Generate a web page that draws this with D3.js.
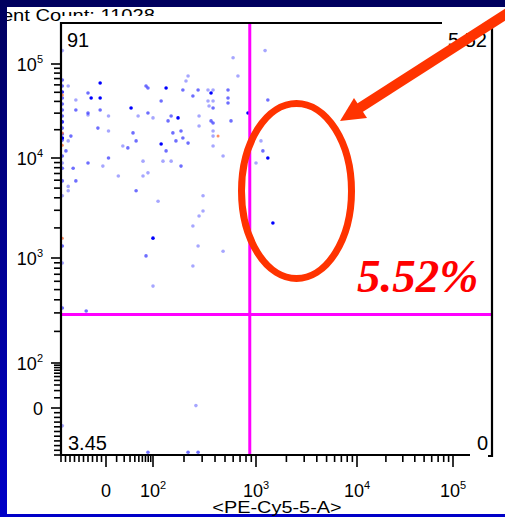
<!DOCTYPE html>
<html>
<head>
<meta charset="utf-8">
<script src="https://cdn.jsdelivr.net/npm/d3@7"></script>
<style>
body { margin: 0; background: #fff; }
svg { display: block; }
</style>
</head>
<body>
<div id="chart"></div>
<script>
// Events: x = PE-Cy5-5-A, y = second channel
// (-97 / -94 are events piled on the lower edges of the axes)
var blueX = [599, 668, -13, -84, 209, 219, 72, 79, 134, 195, 274, 342, 383, 535, -40, -33, -13, 244, 120, 366,
	535, 535, 342, 383, -67, 350, 383, -67, -40, -13, 32, 2, 48, 79, 100, 150, 175, 140, 280, 366,
	383, 572, 836, -18, -40, -97, 2, 36, 43, -78, -84, -97, 18, 26, -89, 2, -40, -7, 62, -73,
	-97, 12, 79, 62, -67, -97, -84, -84, 43, -97, 280, 156, 187, 383, 383, 167, 195, 219, 120, 134,
	383, 479, 125, 150, 187, 306, 112, 306, 280, 244, 100, 274, 479, 72, 244, 100, -44, -97, -97, -97,
	-97, -97, -97, -97, -97, -97, -97, -97, -97, -97, -97, -97, -97,
	1230, 1310, 1120, 1170, 1310, 1000, 1470,
	261, -97, 79, 219, 274];
var blueY = [116000, 74500, 62800, 58300, 65900, 74500, 58300, 55600, 55600, 52800, 52800, 52800, 52800, 52800, 49100, 43500, 43500, 45700, 40400, 49100,
	43500, 38500, 40400, 40400, 41400, 35700, 34000, 32400, 30100, 32400, 34000, 28000, 28000, 30100, 26700, 28000, 26700, 24800, 28000, 24800,
	23600, 24800, 30100, 20800, 28700, 28000, 19400, 18500, 15200, 17100, 15200, 16300, 13400, 12800, 11900, 10000, 8900, 8300, 9300, 7900,
	7900, 6600, 7100, 6600, 5900, 5900, 5200, 4700, 4700, 4200, 21900, 18500, 19400, 19400, 17100, 15200, 16300, 14400, 14100, 11900,
	13400, 10500, 9300, 9300, 8300, 4200, 3700, 2950, 2630, 2090, 1580, 1320, 1170, 1050, 840, 540, 313, 334, 895, 1320,
	137000, 67600, 58300, 50400, 43500, 37500, 32400, 24200, 20800, 18000, 15500, 10500, 8900,
	137000, 41400, 15200, 11900, 10000, 8900, 2240,
	2, -38, -94, -94, -94];
// events stacked on each dot (drives the shade)
var blueCounts = [1, 1, 4, 1, 1, 1, 2, 2, 4, 2, 2, 1, 1, 2, 2, 4, 4, 2, 2, 4,
	2, 2, 1, 1, 1, 1, 2, 2, 2, 2, 4, 1, 1, 2, 1, 2, 4, 2, 1, 2,
	2, 2, 4, 2, 1, 2, 1, 2, 2, 2, 1, 4, 1, 2, 2, 2, 2, 1, 1, 2,
	2, 1, 1, 1, 2, 2, 1, 1, 2, 1, 1, 2, 2, 1, 1, 2, 2, 2, 4, 2,
	1, 1, 1, 1, 2, 1, 1, 1, 1, 1, 4, 1, 1, 2, 1, 1, 2, 2, 1, 2,
	1, 2, 2, 3, 2, 2, 2, 3, 2, 2, 2, 2, 1,
	1, 2, 1, 2, 4, 1, 4,
	1, 1, 2, 2, 2];
var orangeX = [-97, -97, -97, -97, 428];
var orangeY = [46800, 18500, 13700, 1580, 17100];

var gateX = 870, gateY = 290;
var quadrantLabels = ["91", "5.52", "3.45", "0"];
var majorTicks = [0, 100, 1000, 10000, 100000];
var tickBase = ["0", "10", "10", "10", "10"];
var tickExp = ["", "2", "3", "4", "5"];
var axisTitle = "<PE-Cy5-5-A>";
var headerText = "Event Count: 11028";
var callout = "5.52%";

var minorTicks = [];
for (var i = 1; i <= 10; i++) minorTicks.push(-10 * i);
for (var i = 1; i <= 9; i++) minorTicks.push(10 * i);
[100, 1000, 10000].forEach(function(d) {
	for (var k = 2; k <= 9; k++) minorTicks.push(k * d);
});

// biexponential-like display transform
function toAxis(v) {
	if (v >= 100) return Math.log10(v);
	if (v >= 0) return 1 + Math.log10(1 + 5 * v / 100) / Math.log10(6);
	return 1 + v / 100;
}
var axisPts = [-100, 0, 100, 1e3, 1e4, 1e5, 262144].map(toAxis);

var W = 505, H = 517;
var svg = d3.select('#chart').append('svg')
	.attr('width', W)
	.attr('height', H);

// slide background
var defs = svg.append('defs');
var grad = defs.append('linearGradient').attr('id', 'bg').attr('x1', 0).attr('y1', 0).attr('x2', 0).attr('y2', 1);
grad.append('stop').attr('offset', '0%').attr('stop-color', '#00005e');
grad.append('stop').attr('offset', '100%').attr('stop-color', '#0000c8');
defs.append('clipPath').attr('id', 'panel').append('rect').attr('x', 7).attr('y', 7).attr('width', W - 7).attr('height', 507);

svg.append('rect').attr('width', W).attr('height', H).attr('fill', 'url(#bg)');
svg.append('rect').attr('x', 7).attr('y', 7).attr('width', W - 7).attr('height', 507).attr('fill', '#fff');

var xScale = d3.scaleLinear().domain(axisPts).range([61, 106, 153, 256, 357, 453, 492]).clamp(true);
var yScale = d3.scaleLinear().domain(axisPts).range([455, 408, 363, 258, 158, 64, 23]).clamp(true);
function X(v) { return xScale(toAxis(v)); }
function Y(v) { return yScale(toAxis(v)); }

var font = 'Liberation Sans, Arial, sans-serif';

// header, partly hidden by the plot box
svg.append('g').attr('clip-path', 'url(#panel)')
	.append('text')
	.attr('transform', 'translate(155,21) scale(1.26,1)')
	.attr('text-anchor', 'end')
	.attr('font-family', font).attr('font-size', 16)
	.text(headerText);
svg.append('rect').attr('x', 62).attr('y', 16).attr('width', 380).attr('height', 7).attr('fill', '#fff');

// dots
var shade = d3.scaleLinear().domain([1, 4]).range([0.35, 1]);
var g = svg.append('g');
g.selectAll('circle.ev')
	.data(blueX.map(function(d, i) { return {x: d, y: blueY[i], n: blueCounts[i]}; }))
	.enter().append('circle')
	.attr('class', 'ev')
	.attr('cx', function(d) { return X(d.x); })
	.attr('cy', function(d) { return Y(d.y); })
	.attr('r', 1.8)
	.attr('fill', '#0000ff')
	.attr('fill-opacity', function(d) { return shade(d.n); });
g.selectAll('circle.or')
	.data(orangeX.map(function(d, i) { return {x: d, y: orangeY[i]}; }))
	.enter().append('circle')
	.attr('class', 'or')
	.attr('cx', function(d) { return X(d.x); })
	.attr('cy', function(d) { return Y(d.y); })
	.attr('r', 1.5)
	.attr('fill', '#ff6a30')
	.attr('fill-opacity', 0.75);

// quadrant gates
svg.append('line')
	.attr('x1', X(gateX)).attr('x2', X(gateX))
	.attr('y1', 23).attr('y2', 455)
	.attr('stroke', '#ff00ff').attr('stroke-width', 3);
svg.append('line')
	.attr('x1', 61).attr('x2', 492)
	.attr('y1', Y(gateY)).attr('y2', Y(gateY))
	.attr('stroke', '#ff00ff').attr('stroke-width', 3);

// ticks (axis lines drawn with the frame)
function drawTicks(sel, scaleFn, vals, size, horizontal) {
	sel.selectAll(null).data(vals).enter().append('line')
		.attr('x1', function(d) { return horizontal ? scaleFn(d) : 61; })
		.attr('x2', function(d) { return horizontal ? scaleFn(d) : 61 - size; })
		.attr('y1', function(d) { return horizontal ? 455 : scaleFn(d); })
		.attr('y2', function(d) { return horizontal ? 455 + size : scaleFn(d); })
		.attr('stroke', '#000').attr('stroke-width', 1.6);
}
var ticks = svg.append('g');
drawTicks(ticks, X, minorTicks, 7, true);
drawTicks(ticks, X, majorTicks, 12, true);
drawTicks(ticks, Y, minorTicks, 7, false);
drawTicks(ticks, Y, majorTicks, 10, false);

// frame
var frame = svg.append('g').attr('stroke', '#000').attr('stroke-width', 2.2).attr('fill', 'none');
frame.append('line').attr('x1', 61).attr('x2', 61).attr('y1', 22).attr('y2', 456);
frame.append('line').attr('x1', 60).attr('x2', 470).attr('y1', 455).attr('y2', 455);
frame.append('line').attr('x1', 60).attr('x2', 442).attr('y1', 23).attr('y2', 23);
frame.append('polyline').attr('points', '492,27 492,456 488,456');

// tick labels
function label(sel, i) {
	sel.append('tspan').text(tickBase[i]);
	if (tickExp[i]) sel.append('tspan').attr('dy', -8).attr('font-size', 11).text(tickExp[i]);
}
majorTicks.forEach(function(v, i) {
	var t = svg.append('text')
		.attr('x', X(v)).attr('y', 497)
		.attr('text-anchor', 'middle')
		.attr('font-family', font).attr('font-size', 18);
	label(t, i);
	var ty = svg.append('text')
		.attr('x', 43).attr('y', Y(v) + 6.5)
		.attr('text-anchor', 'end')
		.attr('font-family', font).attr('font-size', 18);
	label(ty, i);
});

svg.append('text')
	.attr('transform', 'translate(277,513) scale(1.17,1)')
	.attr('text-anchor', 'middle')
	.attr('font-family', font).attr('font-size', 17)
	.text(axisTitle);

// quadrant percentages
var qPos = [[67, 47, 'start'], [487, 47, 'end'], [68, 450, 'start'], [488, 450, 'end']];
quadrantLabels.forEach(function(t, i) {
	svg.append('text')
		.attr('x', qPos[i][0]).attr('y', qPos[i][1])
		.attr('text-anchor', qPos[i][2])
		.attr('font-family', font).attr('font-size', 20)
		.text(t);
});

// annotation: ellipse, arrow and callout
svg.append('ellipse')
	.attr('cx', 296.5).attr('cy', 191).attr('rx', 55).attr('ry', 87.5)
	.attr('fill', 'none').attr('stroke', '#ff3300').attr('stroke-width', 7);
svg.append('line')
	.attr('x1', 514).attr('y1', 9).attr('x2', 358).attr('y2', 109)
	.attr('stroke', '#ff3300').attr('stroke-width', 10);
svg.append('polygon')
	.attr('points', '340,121 354,98 367,118')
	.attr('fill', '#ff3300');
svg.append('text')
	.attr('x', 357).attr('y', 292)
	.attr('font-family', 'Liberation Serif, Times New Roman, serif')
	.attr('font-weight', 'bold').attr('font-style', 'italic')
	.attr('font-size', 47)
	.attr('fill', '#ff0000')
	.text(callout);
</script>
</body>
</html>
